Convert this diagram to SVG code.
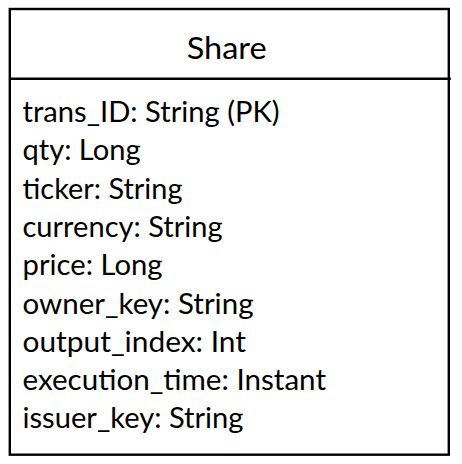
<svg xmlns="http://www.w3.org/2000/svg" width="462" height="464" viewBox="0 0 462 464">
<style>
.box{fill:#ffffff;stroke:#000000;stroke-width:2.4}
.div{stroke:#000000;stroke-width:2.4}
.title{font-family:Lato,"Open Sans","Liberation Sans",sans-serif;font-size:30.5px;fill:#000000;text-anchor:middle}
.attr{font-family:Lato,"Open Sans","Liberation Sans",sans-serif;font-size:28.5px;fill:#000000}
</style>
<rect width="462" height="464" fill="#ffffff"/>
<g id="Share">
<rect class="box" x="9.8" y="9" width="439" height="445.7"/>
<line class="div" x1="9.8" y1="78.8" x2="450.8" y2="78.8"/>
<text class="title" x="226.7" y="59.3" textLength="80" lengthAdjust="spacingAndGlyphs">Share</text>
<text class="attr" x="22.5" y="122" textLength="257" lengthAdjust="spacingAndGlyphs">trans_ID: String (PK)</text>
<text class="attr" x="22.5" y="160.3" textLength="118" lengthAdjust="spacingAndGlyphs">qty: Long</text>
<text class="attr" x="22.5" y="198.6" textLength="160" lengthAdjust="spacingAndGlyphs">ticker: String</text>
<text class="attr" x="22.5" y="236.9" textLength="200" lengthAdjust="spacingAndGlyphs">currency: String</text>
<text class="attr" x="22.5" y="275.2" textLength="140" lengthAdjust="spacingAndGlyphs">price: Long</text>
<text class="attr" x="22.5" y="313.5" textLength="231" lengthAdjust="spacingAndGlyphs">owner_key: String</text>
<text class="attr" x="22.5" y="351.8" textLength="223.5" lengthAdjust="spacingAndGlyphs">output_index: Int</text>
<text class="attr" x="22.5" y="390.1" textLength="303.5" lengthAdjust="spacingAndGlyphs">execution_time: Instant</text>
<text class="attr" x="22.5" y="428.4" textLength="221" lengthAdjust="spacingAndGlyphs">issuer_key: String</text>
</g>
<g id="connectors"/>
</svg>
